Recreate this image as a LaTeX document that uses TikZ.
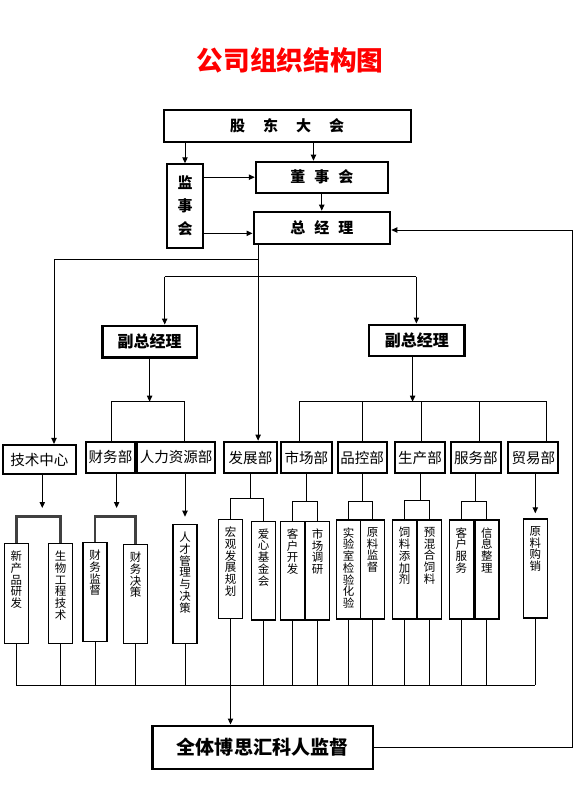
\documentclass[tikz,border=0pt]{standalone}
\usepackage{fontspec}
\newfontfamily\cjk{Noto Sans CJK SC}
\usetikzlibrary{arrows.meta,calc}
\newcommand\vtxt[2]{\parbox[c][#1][t]{10pt}{\centering\vspace*{5.5pt}#2}}
\begin{document}
\begin{tikzpicture}[x=0.75pt,y=-0.75pt,line width=0.75pt,
  arr/.style={-{Triangle[length=4.5pt,width=4pt]}},
  wh/.style 2 args={minimum width=#1*0.75, minimum height=#2*0.75},
  topbox/.style={draw, line width=1.5pt, inner sep=0pt, font=\cjk\bfseries\fontsize{11.25}{13}\selectfont},
  fgbox/.style={draw, line width=2.2pt, inner sep=0pt, font=\cjk\bfseries\fontsize{12}{14}\selectfont},
  dept/.style={draw, line width=1.5pt, inner sep=0pt, font=\cjk\fontsize{10.9}{12}\selectfont},
  subbox/.style={draw, line width=1.1pt, inner sep=0pt, minimum width=18pt, anchor=north, font=\cjk\fontsize{8.6}{8.8}\selectfont},
  qtbox/.style={draw, line width=1.8pt, inner sep=0pt, font=\cjk\bfseries\fontsize{14.3}{16}\selectfont},
  thk/.style={line width=2pt, draw=black!75}]
\useasboundingbox (0,0) rectangle (580,800);

% title
\node[text=red, font=\cjk\bfseries\fontsize{20}{24}\selectfont] (title) at (290,60) {公司组织结构图};

% top boxes
\node[topbox, wh={247.2}{31.7}] (gd) at (287.2,125.85) {股\hspace{13.5pt}东\hspace{13.5pt}大\hspace{13.5pt}会};
\node[topbox, wh={35.3}{83.4}, align=center, font=\cjk\bfseries\fontsize{11.25}{17.25}\selectfont] (js) at (185,206) {监\\事\\会};
\node[topbox, wh={131.9}{31}] (ds) at (321.75,177.2) {董\hspace{6.75pt}事\hspace{6.75pt}会};
\node[topbox, wh={136.8}{32.6}] (zj) at (321.9,228) {总\hspace{6.75pt}经\hspace{6.75pt}理};

% vice GMs
\node[fgbox, wh={94.8}{31.3}] (fg1) at (149.6,341.65) {副总经理};
\node[fgbox, wh={95.7}{31}] (fg2) at (416.85,340.5) {副总经理};

% departments
\node[dept, wh={73.3}{29.3}] (jszx) at (39.35,459.6) {技术中心};
\node[dept, wh={49}{31}] (cwb) at (110.5,457) {财务部};
\node[dept, wh={77.7}{31}] (rlzy) at (176.15,457) {人力资源部};
\node[dept, wh={52.4}{31.6}] (fzb) at (250.5,457.5) {发展部};
\node[dept, wh={50.7}{31}] (scb) at (306.35,457.5) {市场部};
\node[dept, wh={49}{31}] (pkb) at (362.2,457.5) {品控部};
\node[dept, wh={50}{31}] (scb2) at (420,457.5) {生产部};
\node[dept, wh={49.7}{31}] (fwb) at (475.85,457.5) {服务部};
\node[dept, wh={50}{31}] (myb) at (533.3,457.5) {贸易部};

% sub boxes
\node[subbox] (xcp)  at (16.3,543)   {\vtxt{75pt}{新\\产\\品\\研\\发}};
\node[subbox] (swgc) at (60.7,543)   {\vtxt{75pt}{生\\物\\工\\程\\技\\术}};
\node[subbox] (cwjd) at (95,542)     {\vtxt{74.25pt}{财\\务\\监\\督}};
\node[subbox] (cwjc) at (135.5,544)  {\vtxt{74.25pt}{财\\务\\决\\策}};
\node[subbox] (rc)   at (185,524)    {\vtxt{89.25pt}{人\\才\\管\\理\\与\\决\\策}};
\node[subbox] (hg)   at (230.5,519)  {\vtxt{74.25pt}{宏\\观\\发\\展\\规\\划}};
\node[subbox] (ax)   at (263.5,520.7){\vtxt{74pt}{爱\\心\\基\\金\\会}};
\node[subbox] (khkf) at (292.5,520.7){\vtxt{74pt}{客\\户\\开\\发}};
\node[subbox] (scdy) at (317.5,520.7){\vtxt{74pt}{市\\场\\调\\研}};
\node[subbox] (sys)  at (348.7,519.3){\vtxt{74.25pt}{实\\验\\室\\检\\验\\化\\验}};
\node[subbox] (ylj)  at (372.5,519.3){\vtxt{74.25pt}{原\\料\\监\\督}};
\node[subbox] (slt)  at (404.7,519.3){\vtxt{74.25pt}{饲\\料\\添\\加\\剂}};
\node[subbox] (yh)   at (429.7,519.3){\vtxt{74.25pt}{预\\混\\合\\饲\\料}};
\node[subbox] (khfw) at (461.3,519.3){\vtxt{74.25pt}{客\\户\\服\\务}};
\node[subbox] (xxzl) at (486.85,519.3){\vtxt{74.25pt}{信\\息\\整\\理}};
\node[subbox] (ylgx) at (535.3,518.3){\vtxt{74.25pt}{原\\料\\购\\销}};

% bottom box
\node[qtbox, wh={220.5}{43.3}] (qt) at (262.65,747.35) {全体博思汇科人监督};

% helper coordinates
\coordinate (y259) at (0,259.3);
\coordinate (y277) at (0,276.7);
\coordinate (y402) at (0,401.7);
\coordinate (y508) at (0,508);
\coordinate (y517) at (0,516.7);
\coordinate (y498) at (0,498);
\coordinate (y502) at (0,501.7);
\coordinate (y501) at (0,500.7);
\coordinate (y513) at (0,513.3);
\coordinate (bus) at (0,685);
\coordinate (xR) at (572,0);
\coordinate (x54) at (54,0);
\coordinate (x165) at (164.7,0);
\coordinate (x416) at (416.4,0);
\coordinate (c1) at (111,0);
\coordinate (c2) at (184.3,0);
\coordinate (v1) at (299.3,0);
\coordinate (v2) at (362.7,0);
\coordinate (v3) at (421,0);
\coordinate (v4) at (479.3,0);
\coordinate (v5) at (546.7,0);

% top connectors
\draw[arr] (gd.south -| js.north) -- (js.north);
\coordinate (g2) at ([xshift=-6.2pt]ds.north);
\draw[arr] (g2 |- gd.south) -- (g2);
\draw[arr] (ds.south) -- (ds.south |- zj.north);
\draw[arr] (js.east |- ds.west) -- (ds.west);
\coordinate (z2) at ([yshift=-4pt]zj.west);
\draw[arr] (js.east |- z2) -- (z2);
\coordinate (z3) at ([yshift=-1.5pt]zj.east);
\draw[arr] (qt.east) -| (xR |- z3) -- (z3);

% GM branches
\coordinate (zb) at ([xshift=4.2pt]zj.south west);
\draw[arr] (zb) -- (zb |- fzb.north);
\draw[arr] (zb |- y259) -| (x54 |- jszx.north);
\draw (x165 |- y277) -- (x416 |- y277);
\draw[arr] (x165 |- y277) -- (x165 |- fg1.north);
\draw[arr] (x416 |- y277) -- (x416 |- fg2.north);

% vice GM branches
\draw[arr] (fg1.south) -- (fg1.south |- y402);
\coordinate (f2b) at ([xshift=-3.2pt]fg2.south);
\draw[arr] (f2b) -- (f2b |- y402);
\draw (c1 |- cwb.north) |- (c2 |- y402) -- (c2 |- rlzy.north);
\draw (v1 |- scb.north) |- (v5 |- y402) -- (v5 |- myb.north);
\draw (v2 |- y402) -- (v2 |- pkb.north);
\draw (v3 |- y402) -- (v3 |- scb2.north);
\draw (v4 |- y402) -- (v4 |- fwb.north);

% department to sub boxes
\coordinate (t1) at ([xshift=2.2pt]jszx.south);
\draw[arr] (t1) -- (t1 |- y508);
\draw[thk] (xcp.north) -- (xcp.north |- y517) -- (swgc.north |- y517) -- (swgc.north);
\coordinate (t2) at ([xshift=4.6pt]cwb.south);
\draw[arr] (t2) -- (t2 |- y508);
\draw[thk] (cwjd.north) -- (cwjd.north |- y517) -- (cwjc.north |- y517) -- (cwjc.north);
\draw[arr] (rlzy.south -| rc.north) -- (rc.north |- y517);
\draw (fzb.south) -- (fzb.south |- y498);
\draw (hg.north) -- (hg.north |- y498) -- (ax.north |- y498) -- (ax.north);
\draw (scb.south) -- (scb.south |- y502);
\draw (khkf.north) -- (khkf.north |- y502) -- (scdy.north |- y502) -- (scdy.north);
\draw (pkb.south) -- (pkb.south |- y502);
\draw (sys.north) -- (sys.north |- y502) -- (ylj.north |- y502) -- (ylj.north);
\draw (scb2.south) -- (scb2.south |- y501);
\draw (slt.north) -- (slt.north |- y501) -- (yh.north |- y501) -- (yh.north);
\draw (fwb.south) -- (fwb.south |- y502);
\draw (khfw.north) -- (khfw.north |- y502) -- (xxzl.north |- y502) -- (xxzl.north);
\draw[arr] (myb.south -| ylgx.north) -- (ylgx.north |- y513);

% bottom bus
\foreach \n in {xcp,swgc,cwjd,cwjc,rc,hg,ax,khkf,scdy,sys,ylj,slt,yh,khfw,xxzl,ylgx}
  \draw (\n.south) -- (\n.south |- bus);
\draw (xcp.south |- bus) -- (ylgx.south |- bus);
\draw[arr] (hg.south) -- (hg.south |- qt.north);
\end{tikzpicture}
\end{document}
